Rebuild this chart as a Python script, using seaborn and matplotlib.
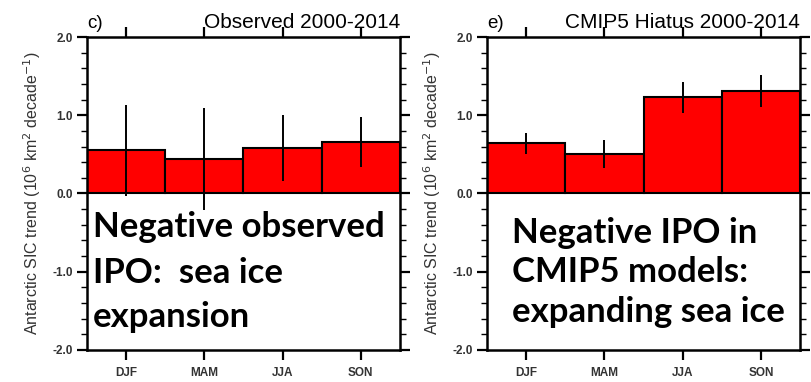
import numpy as np
import pandas as pd
import matplotlib
matplotlib.use("Agg")
import matplotlib.pyplot as plt
import seaborn as sns
from matplotlib.ticker import MultipleLocator

sns.set_theme(style="white")
plt.rcParams['font.family'] = ['Liberation Sans', 'DejaVu Sans']

seasons = ["DJF", "MAM", "JJA", "SON"]
obs_trend = [0.55, 0.44, 0.58, 0.66]
obs_err = [0.58, 0.65, 0.42, 0.32]
cmip_trend = [0.64, 0.50, 1.23, 1.31]
cmip_err = [0.13, 0.18, 0.20, 0.20]

panel_letters = ["c)", "e)"]
panel_titles = ["Observed 2000-2014", "CMIP5 Hiatus 2000-2014"]
overlay_lines = [["Negative observed", "IPO:  sea ice", "expansion"],
                 ["Negative IPO in", "CMIP5 models:", "expanding sea ice"]]
ytick_vals = [-2.0, -1.0, 0.0, 1.0, 2.0]
ylabel = "Antarctic SIC trend (10$^6$ km$^2$ decade$^{-1}$)"

fig = plt.figure(figsize=(8.12, 3.82), dpi=100)
axes = [fig.add_axes([0.107, 0.084, 0.3855, 0.819]),
        fig.add_axes([0.5998, 0.084, 0.3855, 0.819])]

series = [(obs_trend, obs_err), (cmip_trend, cmip_err)]
text_x = [0.019, 0.080]
text_baselines = [[0.361, 0.214, 0.073], [0.342, 0.217, 0.089]]

for i, ax in enumerate(axes):
    vals, errs = series[i]
    df = pd.DataFrame({"season": seasons, "trend": vals})
    sns.barplot(data=df, x="season", y="trend", ax=ax, color="#ff0000",
                saturation=1, width=1.0, edgecolor="black", linewidth=1.5,
                errorbar=None)
    ax.errorbar(np.arange(len(seasons)), vals, yerr=errs, fmt="none",
                ecolor="black", elinewidth=1.4, capsize=0, zorder=5)
    ax.set_xlim(-0.5, 3.5)
    ax.set_ylim(-2.0, 2.0)
    ax.set_yticks(ytick_vals)
    ax.set_yticklabels([f"{v:.1f}" for v in ytick_vals], fontsize=8.5,
                       fontweight="bold")
    ax.yaxis.set_minor_locator(MultipleLocator(0.2))
    ax.set_xticks(np.arange(len(seasons)))
    ax.set_xticklabels(seasons, fontsize=8.5, fontweight="bold")
    ax.set_xlabel("")
    ax.set_ylabel(ylabel, fontsize=11.5, labelpad=7, color="#333333")
    ax.tick_params(axis="both", which="major", direction="out", length=7,
                   width=1.6, color="black", top=True, right=True,
                   bottom=True, left=True, labelcolor="#333333", pad=3)
    ax.tick_params(axis="x", which="major", pad=5)
    ax.tick_params(axis="y", which="minor", direction="out", length=4,
                   width=1.0, color="black", left=True, right=True)
    for s in ax.spines.values():
        s.set_linewidth(1.8)
        s.set_color("black")
        s.set_visible(True)
    ax.text(0.0, 1.03, panel_letters[i], transform=ax.transAxes,
            fontsize=13.5, ha="left", va="baseline", color="black")
    ax.text(1.0, 1.03, panel_titles[i], transform=ax.transAxes,
            fontsize=15, ha="right", va="baseline", color="black")
    for line, yb in zip(overlay_lines[i], text_baselines[i]):
        ax.text(text_x[i], yb, line, transform=ax.transAxes, fontsize=25,
                fontweight="bold", family=["Lato", "DejaVu Sans"],
                ha="left", va="baseline", color="black", zorder=10)

fig.savefig("out.png", dpi=100, facecolor="white")
